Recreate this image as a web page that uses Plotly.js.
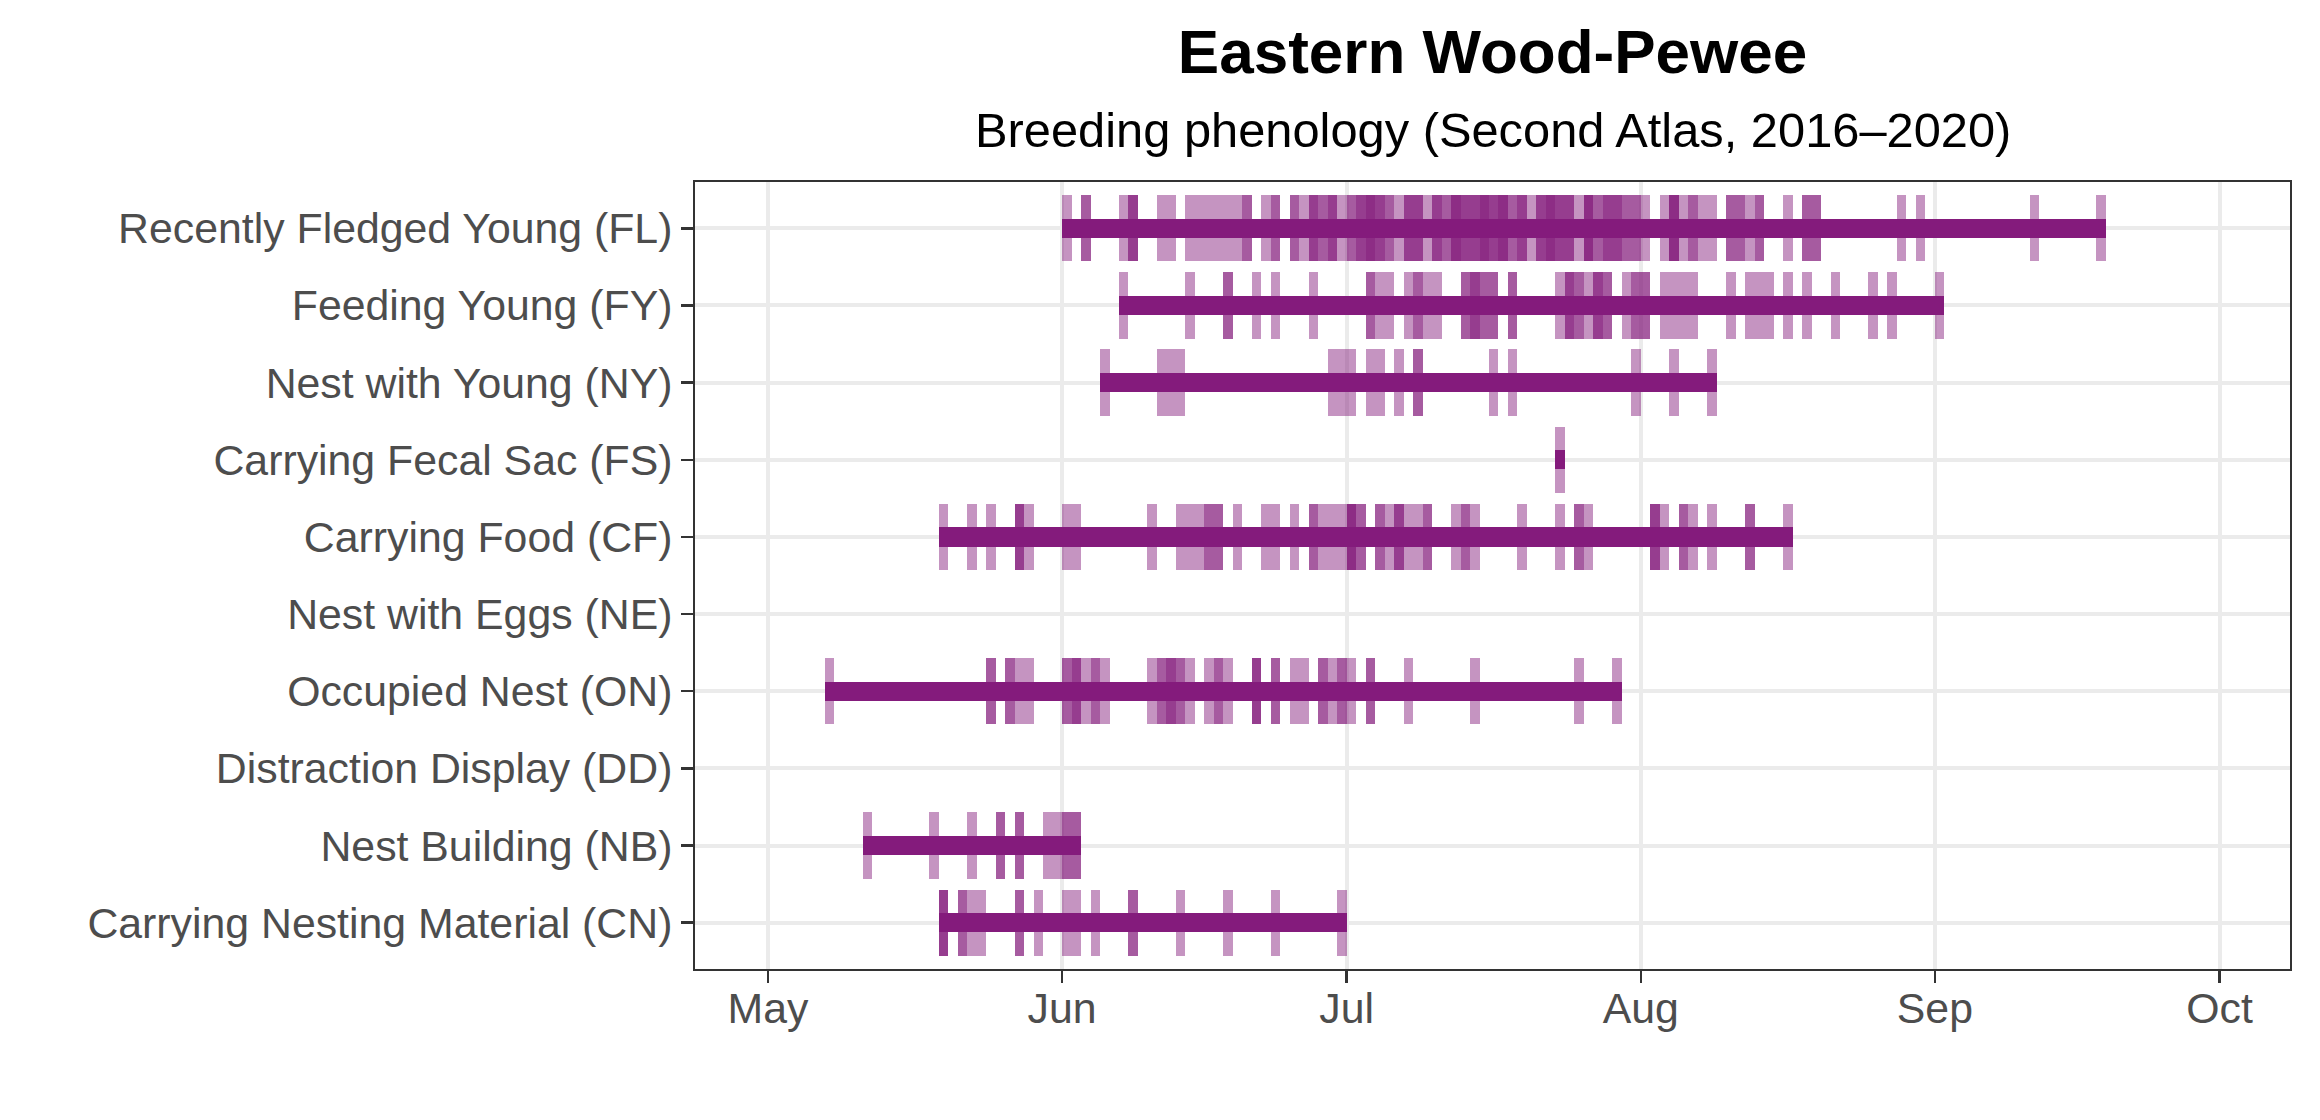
<!DOCTYPE html>
<html><head><meta charset="utf-8">
<script src="https://cdn.plot.ly/plotly-3.0.1.min.js"></script>
<style>html,body{margin:0;padding:0;background:#fff}#chart{width:2320px;height:1120px}</style>
</head><body><div id="chart"></div>
<script>
const YEAR = '2021';
const categories = [
  'Recently Fledged Young (FL)', 'Feeding Young (FY)', 'Nest with Young (NY)',
  'Carrying Fecal Sac (FS)', 'Carrying Food (CF)', 'Nest with Eggs (NE)',
  'Occupied Nest (ON)', 'Distraction Display (DD)', 'Nest Building (NB)',
  'Carrying Nesting Material (CN)'
];
const monthTicks = ['May', 'Jun', 'Jul', 'Aug', 'Sep', 'Oct'];

// observation dates (MM-DD) and number of records on that date
const FL_dates = ['06-01','06-03','06-07','06-08','06-11','06-12','06-14','06-15','06-16','06-17','06-18','06-19','06-20','06-22','06-23','06-25','06-26','06-27','06-28','06-29','06-30',
  '07-01','07-02','07-03','07-04','07-05','07-06','07-07','07-08','07-09','07-10','07-11','07-12','07-13','07-14','07-15','07-16','07-17','07-18','07-19','07-20','07-21','07-22','07-23','07-24','07-25','07-26','07-27','07-28','07-29','07-30','07-31',
  '08-01','08-03','08-04','08-05','08-06','08-07','08-08','08-10','08-11','08-12','08-13','08-16','08-18','08-19','08-28','08-30','09-11','09-18'];
const FL_counts = [1,2,1,3,1,1,1,1,1,1,1,1,2,1,2,2,1,3,2,3,1,
  2,3,4,3,2,1,3,3,1,3,2,4,3,3,4,3,4,2,3,1,3,4,3,3,1,4,2,3,3,2,2,
  1,1,4,1,2,1,1,2,2,1,2,1,2,2,1,1,1,1];

const FY_dates = ['06-07','06-14','06-18','06-21','06-23','06-27','07-03','07-04','07-05','07-07','07-08','07-09','07-10','07-13','07-14','07-15','07-16','07-18','07-23','07-24','07-25','07-26','07-27','07-28','07-30','07-31',
  '08-01','08-03','08-04','08-05','08-06','08-10','08-12','08-13','08-14','08-16','08-18','08-21','08-25','08-27','09-01'];
const FY_counts = [1,1,2,1,1,1,2,1,1,1,2,1,1,2,3,2,2,2,1,3,2,1,3,2,1,2,
  2,1,1,1,1,1,1,1,1,1,1,1,1,1,1];

const NY_dates = ['06-05','06-11','06-12','06-13','06-29','06-30','07-01','07-03','07-04','07-06','07-08','07-16','07-18','07-31','08-04','08-08'];
const NY_counts = [1,1,1,1,1,1,1,1,1,1,2,1,1,1,1,1];

const FS_dates = ['07-23'];
const FS_counts = [1];

const CF_dates = ['05-19','05-22','05-24','05-27','05-28','06-01','06-02','06-10','06-13','06-14','06-15','06-16','06-17','06-19','06-22','06-23','06-25','06-27','06-28','06-29','06-30',
  '07-01','07-02','07-04','07-05','07-06','07-07','07-08','07-09','07-12','07-13','07-14','07-19','07-23','07-25','07-26','08-02','08-03','08-05','08-06','08-08','08-12','08-16'];
const CF_counts = [1,1,1,3,1,1,1,1,1,1,1,2,2,1,1,1,1,2,1,1,1,
  4,2,2,1,3,1,1,2,1,2,1,1,1,2,1,3,1,2,1,1,2,1];

const NE_dates = [];
const NE_counts = [];

const ON_dates = ['05-07','05-24','05-26','05-27','05-28','06-01','06-02','06-03','06-04','06-05','06-10','06-11','06-12','06-13','06-14','06-16','06-17','06-18','06-21','06-23','06-25','06-26','06-28','06-29','06-30',
  '07-01','07-03','07-07','07-14','07-25','07-29'];
const ON_counts = [1,2,2,1,1,2,3,1,2,1,1,2,3,2,1,1,2,1,3,2,1,1,2,1,2,1,2,1,1,1,1];

const DD_dates = [];
const DD_counts = [];

const NB_dates = ['05-11','05-18','05-22','05-25','05-27','05-30','05-31','06-01','06-02'];
const NB_counts = [1,1,1,2,2,1,1,2,2];

const CN_dates = ['05-19','05-21','05-22','05-23','05-27','05-29','06-01','06-02','06-04','06-08','06-13','06-18','06-23','06-30'];
const CN_counts = [3,2,1,1,2,1,1,1,1,2,1,1,1,1];

const rows = [
  [categories[0], FL_dates, FL_counts], [categories[1], FY_dates, FY_counts],
  [categories[2], NY_dates, NY_counts], [categories[3], FS_dates, FS_counts],
  [categories[4], CF_dates, CF_counts], [categories[5], NE_dates, NE_counts],
  [categories[6], ON_dates, ON_counts], [categories[7], DD_dates, DD_counts],
  [categories[8], NB_dates, NB_counts], [categories[9], CN_dates, CN_counts]
];

const DAY = 86400000;
const toDate = md => YEAR + '-' + md;
const toMs = md => Date.parse(YEAR + '-' + md + 'T00:00:00Z');

// individual records (each one a one-day tick, semi-transparent)
const tickY = [], tickBase = [], tickLen = [];
// overall span for each code
const spanY = [], spanBase = [], spanLen = [];
rows.forEach(([cat, dates, counts]) => {
  dates.forEach((d, i) => {
    for (let k = 0; k < counts[i]; k++) {
      tickY.push(cat); tickBase.push(toDate(d)); tickLen.push(DAY);
    }
  });
  if (dates.length) {
    const ms = dates.map(toMs);
    const mn = Math.min(...ms), mx = Math.max(...ms);
    spanY.push(cat);
    spanBase.push(new Date(mn).toISOString().slice(0, 10));
    spanLen.push(mx - mn + DAY);
  }
});

const PURPLE = '#841B7C';
const traces = [
  {type: 'bar', orientation: 'h', y: tickY, base: tickBase, x: tickLen, width: 0.86,
   marker: {color: 'rgba(132,27,124,0.47)', line: {width: 0}}, hoverinfo: 'skip', showlegend: false},
  {type: 'bar', orientation: 'h', y: spanY, base: spanBase, x: spanLen, width: 0.25,
   marker: {color: PURPLE, line: {width: 0}}, hoverinfo: 'skip', showlegend: false}
];

const FONT = 'Liberation Sans, Arial, Helvetica, sans-serif';
const axisCommon = {
  showgrid: true, gridcolor: '#EBEBEB', gridwidth: 4, zeroline: false,
  showline: true, mirror: true, linecolor: '#333333', linewidth: 2,
  ticks: 'outside', ticklen: 12, tickwidth: 2.5, tickcolor: '#333333',
  tickfont: {family: FONT, size: 42.8, color: '#4D4D4D'}
};

const layout = {
  width: 2320, height: 1120,
  paper_bgcolor: '#FFFFFF', plot_bgcolor: '#FFFFFF',
  margin: {l: 695, r: 30, t: 182, b: 151},
  barmode: 'overlay', bargap: 0,
  title: {text: '<b>Eastern Wood-Pewee</b>', x: 0.5, xref: 'paper', xanchor: 'center',
          y: 1 - 51 / 1120, yref: 'container', yanchor: 'middle',
          font: {family: FONT, size: 62, color: '#000000'}},
  annotations: [{text: 'Breeding phenology (Second Atlas, 2016–2020)', xref: 'paper', yref: 'paper',
                 x: 0.5, y: 1 + 52 / 787, xanchor: 'center', yanchor: 'middle', showarrow: false,
                 font: {family: FONT, size: 48.8, color: '#000000'}}],
  xaxis: Object.assign({}, axisCommon, {
    type: 'date', range: [YEAR + '-04-23 07:26', YEAR + '-10-08 10:19'],
    tickmode: 'array',
    tickvals: monthTicks.map((m, i) => YEAR + '-' + String(5 + i).padStart(2, '0') + '-01'),
    ticktext: monthTicks,
    ticklabelstandoff: -11
  }),
  yaxis: Object.assign({}, axisCommon, {
    type: 'category', categoryorder: 'array', categoryarray: categories.slice().reverse(),
    range: [-0.6, 9.6]
  })
};

Plotly.newPlot('chart', traces, layout, {displayModeBar: false, staticPlot: true});
</script>
</body></html>
